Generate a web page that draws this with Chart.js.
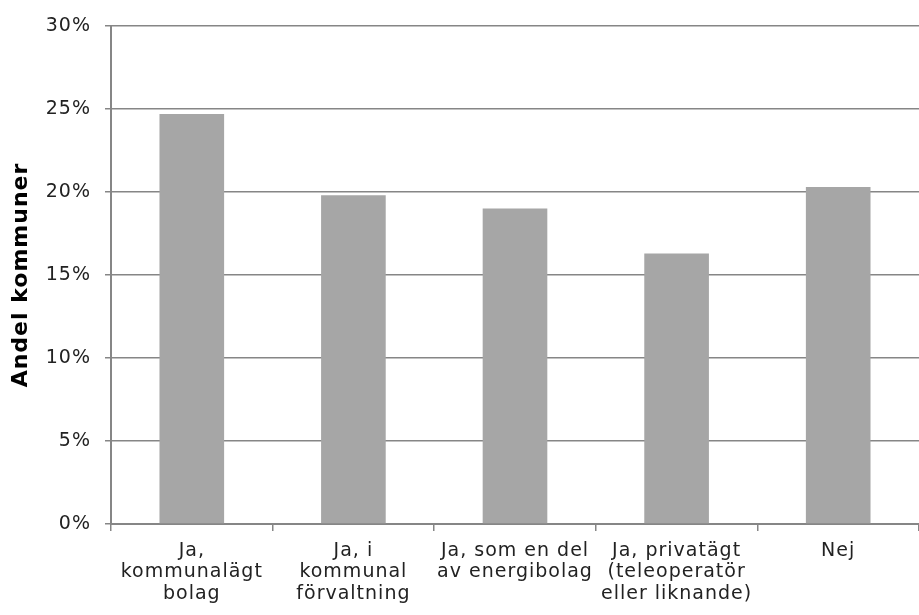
<!DOCTYPE html>
<html>
<head>
<meta charset="utf-8">
<script src="https://cdn.jsdelivr.net/npm/chart.js@4"></script>
<style>
  html, body { margin: 0; padding: 0; background: #fff; }
  #wrap { width: 919px; height: 615px; }
</style>
</head>
<body>
<div id="wrap"><canvas id="chart" width="919" height="615"></canvas></div>
<script>
// data
const categories = [
  ["Ja,", "kommunalägt", "bolag"],
  ["Ja, i", "kommunal", "förvaltning"],
  ["Ja, som en del", "av energibolag"],
  ["Ja, privatägt", "(teleoperatör", "eller liknande)"],
  ["Nej"]
];
const shares = [24.7, 19.8, 19.0, 16.3, 20.3];
const yTicks = [0, 5, 10, 15, 20, 25, 30];

const font = "'DejaVu Sans', Verdana, sans-serif";
const gridGray = "#868686";

// the original font is wider than DejaVu, so space the letters a bit
const wideText = {
  id: "wideText",
  beforeLayout(chart) { chart.ctx.letterSpacing = "1px"; },
  beforeDraw(chart) { chart.ctx.letterSpacing = "1px"; }
};

new Chart(document.getElementById("chart"), {
  type: "bar",
  data: {
    labels: categories,
    datasets: [{
      data: shares,
      backgroundColor: "#a6a6a6",
      borderWidth: 0,
      barPercentage: 0.4,
      categoryPercentage: 1
    }]
  },
  plugins: [wideText],
  options: {
    responsive: false,
    animation: false,
    layout: { padding: { top: 26, right: 0, left: 0, bottom: 0 } },
    plugins: { legend: { display: false }, tooltip: { enabled: false } },
    scales: {
      x: {
        grid: {
          drawOnChartArea: false,
          drawTicks: true,
          tickLength: 7,
          color: gridGray,
          lineWidth: 1.5
        },
        border: { color: gridGray, width: 2 },
        ticks: {
          color: "#222",
          font: { family: font, size: 19, lineHeight: 1.14 },
          padding: 9,
          maxRotation: 0,
          autoSkip: false
        },
        afterFit: (scale) => { scale.height = 91; }
      },
      y: {
        min: 0,
        max: 30,
        afterBuildTicks: (scale) => { scale.ticks = yTicks.map(v => ({ value: v })); },
        grid: {
          color: gridGray,
          lineWidth: 1.5,
          tickLength: 6
        },
        border: { color: gridGray, width: 2 },
        ticks: {
          color: "#222",
          font: { family: font, size: 19 },
          padding: 14,
          callback: (v) => v + "%"
        },
        title: {
          display: true,
          text: "Andel kommuner",
          color: "#000",
          font: { family: font, size: 22, weight: "bold" },
          padding: { top: 8, bottom: 4 }
        },
        afterFit: (scale) => { scale.width = 111; }
      }
    }
  }
});
</script>
</body>
</html>
